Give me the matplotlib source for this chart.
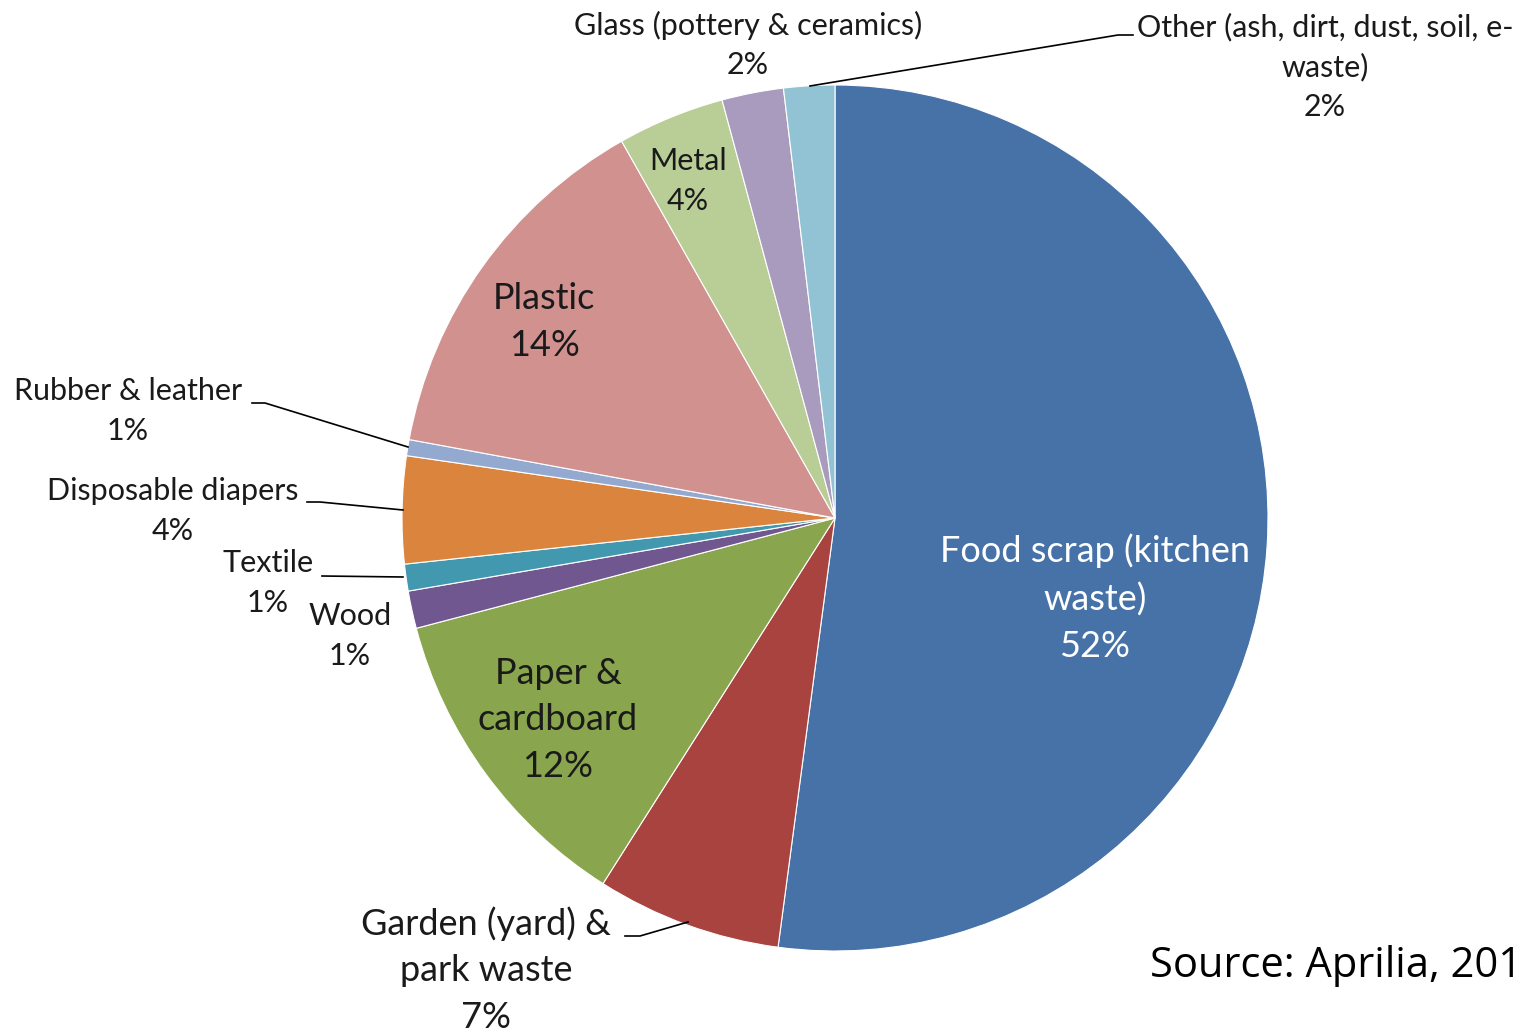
import numpy as np
import matplotlib
matplotlib.use("Agg")
from matplotlib import pyplot as plt

# slice data, clockwise from 12 o'clock
labels = ["Food scrap (kitchen\nwaste)", "Garden (yard) &\npark waste", "Paper &\ncardboard",
          "Wood", "Textile", "Disposable diapers", "Rubber & leather", "Plastic",
          "Metal", "Glass (pottery & ceramics)", "Other (ash, dirt, dust, soil, e-\nwaste)"]
shares = [52.1, 6.9, 11.9, 1.4, 1.0, 4.0, 0.6, 13.9, 4.0, 2.3, 1.9]
colors = ["#4672A8", "#A8433F", "#89A54E", "#71578F", "#4198AF", "#DB843D",
          "#93A9D0", "#D1918F", "#B9CD96", "#A99BBD", "#92C3D4"]

W, H = 1528, 1033
CX, CY, R = 835, 518, 433


def px(x, y):
    # pixel position -> data coords (pie centre 0,0, radius 1)
    return (x - CX) / R, (CY - y) / R


plt.rcParams["font.family"] = ["Lato", "DejaVu Sans"]
fig = plt.figure(figsize=(W / 100, H / 100), dpi=100)
ax = fig.add_axes([0, 0, 1, 1])

ax.pie(shares, colors=colors, startangle=90, counterclock=False, radius=1,
       wedgeprops=dict(edgecolor="white", linewidth=0.8))
# pie() resets the limits, so set them afterwards
ax.set_xlim(-CX / R, (W - CX) / R)
ax.set_ylim(-(H - CY) / R, CY / R)
ax.axis("off")

BIG, SMALL = 26, 22
# label positions (pixels), font size, colour
spots = [
    ((1095, 598), BIG, "white"),
    ((486, 970), BIG, "#1a1a1a"),
    ((558, 720), BIG, "#1a1a1a"),
    ((350, 636), SMALL, "#1a1a1a"),
    ((268, 583), SMALL, "#1a1a1a"),
    ((173, 511), SMALL, "#1a1a1a"),
    ((128, 411), SMALL, "#1a1a1a"),
    ((544, 322), BIG, "#1a1a1a"),
    ((688, 181), SMALL, "#1a1a1a"),
    ((748, 45), SMALL, "#1a1a1a"),
    ((1325, 67), SMALL, "#1a1a1a"),
]
for lab, val, (p, fs, c) in zip(labels, shares, spots):
    x, y = px(*p)
    ax.text(x, y, "{}\n{:.0f}%".format(lab, val), ha="center", va="center",
            fontsize=fs, color=c, linespacing=1.5)

# leader lines
leaders = [
    [(1133, 35), (1118, 35), (810, 86)],
    [(252, 403), (265, 403), (408, 447)],
    [(307, 502), (320, 502), (403, 510)],
    [(322, 576), (403, 577)],
    [(625, 936), (640, 936), (688, 922)],
]
for pts in leaders:
    xy = np.array([px(*q) for q in pts])
    ax.plot(xy[:, 0], xy[:, 1], color="black", linewidth=1.2)

sx, sy = px(1150, 966)
ax.text(sx, sy, "Source: Aprilia, 201", ha="left", va="center", fontsize=30,
        color="black", family=["Open Sans", "DejaVu Sans"])

fig.savefig("out.png", dpi=100)
